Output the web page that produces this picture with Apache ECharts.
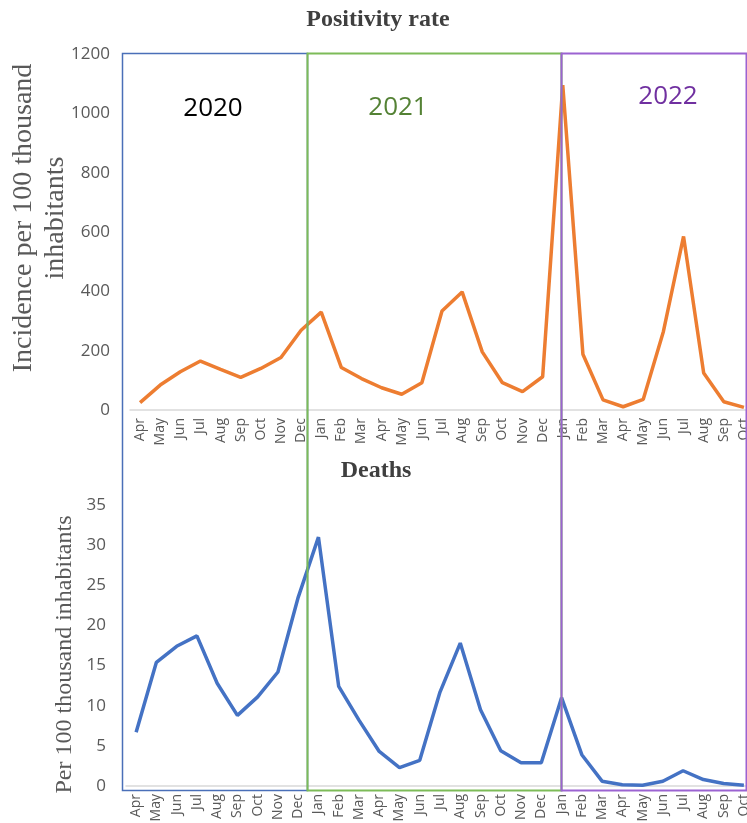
<!DOCTYPE html>
<html>
<head>
<meta charset="utf-8">
<script src="https://cdn.jsdelivr.net/npm/echarts@6/dist/echarts.min.js"></script>
<style>
html,body{margin:0;padding:0;background:#fff;}
#chart{width:747px;height:823px;}
</style>
</head>
<body>
<div id="chart"></div>
<script>
var months = ['Apr','May','Jun','Jul','Aug','Sep','Oct','Nov','Dec',
  'Jan','Feb','Mar','Apr','May','Jun','Jul','Aug','Sep','Oct','Nov','Dec',
  'Jan','Feb','Mar','Apr','May','Jun','Jul','Aug','Sep','Oct'];
var positivity = [25,84,129,165,137,110,140,177,269,
  330,143,106,75,53,92,334,398,196,92,62,112,
  1095,188,34,11,36,265,585,125,28,9];
var deaths = [6.7,15.4,17.4,18.7,12.8,8.8,11.1,14.2,23.5,
  31,12.4,8.2,4.3,2.3,3.2,11.7,17.8,9.5,4.4,2.9,2.9,
  11.0,3.9,0.6,0.15,0.1,0.6,1.9,0.8,0.3,0.1];
var topTicks = [0,200,400,600,800,1000,1200];
var bottomTicks = [0,5,10,15,20,25,30,35];
var years = ['2020','2021','2022'];

var chart = echarts.init(document.getElementById('chart'), null, {renderer:'canvas'});
var labelFont = 'Open Sans';
var serif = 'Liberation Serif';
var grey = '#595959';

function xAxis(gi){
  return {
    type:'category', gridIndex:gi, data:months, boundaryGap:true,
    axisLine:{show:true, lineStyle:{color:'#d9d9d9', width:1.5}},
    axisTick:{show:false},
    axisLabel:{interval:0, rotate:90, fontFamily:labelFont, fontSize:14, color:grey, margin:8}
  };
}
function yAxis(gi, max, interval, name, nameSize, gap, margin, pad){
  return {
    type:'value', gridIndex:gi, min:0, max:max, interval:interval,
    splitLine:{show:false}, axisLine:{show:false}, axisTick:{show:false},
    axisLabel:{fontFamily:labelFont, fontSize:17, color:grey, margin:margin,
      formatter:function(v){return String(v);}},
    name:name, nameLocation:'middle', nameGap:gap, nameMoveOverlap:false,
    nameTextStyle:{fontFamily:serif, fontSize:nameSize, color:grey, lineHeight:32, padding:pad}
  };
}

var option = {
  backgroundColor:'#fff',
  animation:false,
  grid:[
    {left:130, top:54, width:624, height:356, containLabel:false, outerBoundsMode:'none'},
    {left:126, top:505, width:628, height:281, containLabel:false, outerBoundsMode:'none'}
  ],
  xAxis:[xAxis(0), xAxis(1)],
  yAxis:[
    yAxis(0, topTicks[topTicks.length-1], topTicks[1]-topTicks[0], 'Incidence per 100 thousand\ninhabitants', 28, 58, 20, [0,0,0,28]),
    yAxis(1, bottomTicks[bottomTicks.length-1], bottomTicks[1]-bottomTicks[0], 'Per 100 thousand inhabitants', 24, 45, 20, [0,18,0,0])
  ],
  series:[
    {type:'line', xAxisIndex:0, yAxisIndex:0, data:positivity, symbol:'none',
     lineStyle:{color:'#ED7D31', width:3.5}, z:3},
    {type:'line', xAxisIndex:1, yAxisIndex:1, data:deaths, symbol:'none',
     lineStyle:{color:'#4472C4', width:3.5}, z:3}
  ],
  graphic:[
    {type:'rect', z:100, shape:{x:122.5, y:53.5, width:185, height:737}, style:{fill:'none', stroke:'#4A6FB8', lineWidth:1.5}},
    {type:'rect', z:101, shape:{x:307.5, y:53.5, width:254, height:737}, style:{fill:'none', stroke:'#7DBB58', lineWidth:2}},
    {type:'rect', z:102, shape:{x:561.5, y:53.5, width:185, height:737}, style:{fill:'none', stroke:'#9B63D1', lineWidth:2}},
    {type:'text', z:110, x:378, y:20, style:{text:'Positivity rate', font:'bold 24px "Liberation Serif"', fill:'#3f3f3f', textAlign:'center', textVerticalAlign:'middle'}},
    {type:'text', z:110, x:376, y:471, style:{text:'Deaths', font:'bold 24px "Liberation Serif"', fill:'#3f3f3f', textAlign:'center', textVerticalAlign:'middle'}},
    {type:'text', z:110, x:213, y:109, style:{text:years[0], font:'26px "Open Sans"', fill:'#000000', textAlign:'center', textVerticalAlign:'middle'}},
    {type:'text', z:110, x:398, y:108, style:{text:years[1], font:'26px "Open Sans"', fill:'#548235', textAlign:'center', textVerticalAlign:'middle'}},
    {type:'text', z:110, x:668, y:97, style:{text:years[2], font:'26px "Open Sans"', fill:'#7030A0', textAlign:'center', textVerticalAlign:'middle'}}
  ]
};
chart.setOption(option);
</script>
</body>
</html>
